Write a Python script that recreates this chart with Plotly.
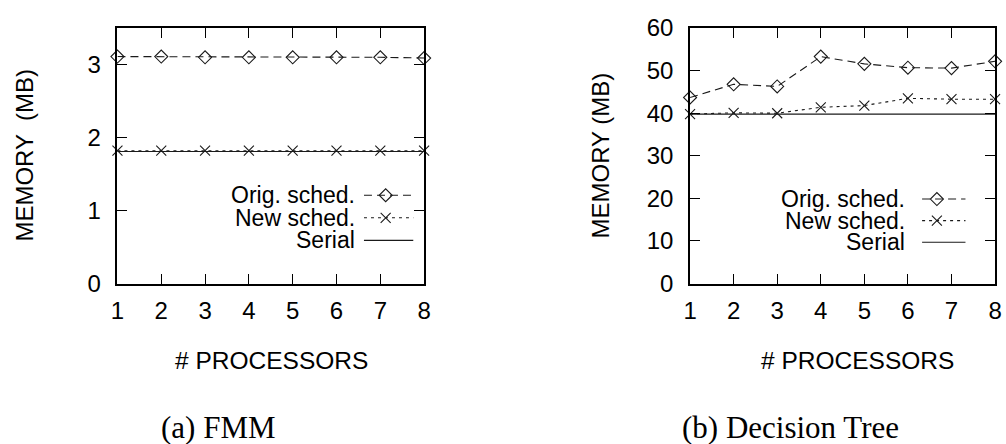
import plotly.graph_objects as go

# ---- data -------------------------------------------------------------
procs = [1, 2, 3, 4, 5, 6, 7, 8]

fmm_orig = [3.11, 3.11, 3.10, 3.10, 3.10, 3.10, 3.10, 3.09]
fmm_new = [1.82, 1.82, 1.82, 1.82, 1.82, 1.82, 1.82, 1.82]
fmm_serial = [1.81, 1.81, 1.81, 1.81, 1.81, 1.81, 1.81, 1.81]

dt_orig = [43.7, 46.8, 46.3, 53.3, 51.6, 50.7, 50.6, 52.2]
dt_new = [39.8, 40.1, 40.0, 41.4, 41.8, 43.5, 43.3, 43.3]
dt_serial = [39.8, 39.8, 39.8, 39.8, 39.8, 39.8, 39.8, 39.8]

series_names = ["Orig. sched.", "New sched.", "Serial"]
fmm_ticks = [0, 1, 2, 3]
dt_ticks = [0, 10, 20, 30, 40, 50, 60]

# ---- styling ----------------------------------------------------------
W, H = 1006, 444
SANS = "Liberation Sans, Arial, sans-serif"
SERIF = "Liberation Serif, Times New Roman, serif"
INK = "#1a1a1a"
LINE_W = 1.1

styles = {
    "Orig. sched.": dict(dash="8px,5px", symbol="diamond-open", msize=10),
    "New sched.": dict(dash="3px,4px", symbol="x-thin-open", msize=10),
    "Serial": dict(dash="solid", symbol=None, msize=0),
}


def px_x(x):
    return x / W


def px_y(y):
    return 1 - y / H


fig = go.Figure()


def add_series(name, xs, ys, xa, ya):
    st = styles[name]
    mode = "lines+markers" if st["symbol"] else "lines"
    fig.add_trace(go.Scatter(
        x=xs, y=ys, mode=mode, name=name, showlegend=False,
        xaxis=xa, yaxis=ya, cliponaxis=False,
        line=dict(color=INK, width=LINE_W, dash=st["dash"]),
        marker=dict(symbol=st["symbol"] or "circle", size=st["msize"],
                    color=INK, line=dict(color=INK, width=1.1)),
    ))


# serial first so the schedules sit on top of it
add_series("Serial", procs, fmm_serial, "x", "y")
add_series("New sched.", procs, fmm_new, "x", "y")
add_series("Orig. sched.", procs, fmm_orig, "x", "y")

add_series("Serial", procs, dt_serial, "x2", "y2")
add_series("New sched.", procs, dt_new, "x2", "y2")
add_series("Orig. sched.", procs, dt_orig, "x2", "y2")

# ---- keys (gnuplot style: label, then line sample) --------------------
keys = [
    dict(rows=[193, 217, 241], text_right=355, x0=362, x1=412, xm=384),
    dict(rows=[197, 220, 243], text_right=913, x0=928, x1=972, xm=943),
]
annotations = []
for k in keys:
    for name, ry in zip(series_names, k["rows"]):
        st = styles[name]
        fig.add_trace(go.Scatter(
            x=[k["x0"], k["x1"]], y=[ry, ry], mode="lines",
            xaxis="x3", yaxis="y3", showlegend=False, hoverinfo="skip",
            line=dict(color=INK, width=LINE_W, dash=st["dash"]),
        ))
        if st["symbol"]:
            fig.add_trace(go.Scatter(
                x=[k["xm"]], y=[ry], mode="markers",
                xaxis="x3", yaxis="y3", showlegend=False, hoverinfo="skip",
                marker=dict(symbol=st["symbol"], size=st["msize"], color=INK,
                            line=dict(color=INK, width=1.1)),
            ))
        annotations.append(dict(
            x=px_x(k["text_right"]), y=px_y(ry), xref="paper", yref="paper",
            xanchor="right", yanchor="middle", showarrow=False, text=name,
            font=dict(family=SANS, size=23, color="black"),
        ))

# ---- axis titles and sub-captions -------------------------------------
texts = [
    ("MEMORY \u00a0(MB)", 18, 151, -90, SANS, 24),
    ("MEMORY (MB)", 602, 151, -90, SANS, 24),
    ("# PROCESSORS", 268, 369, 0, SANS, 24.5),
    ("# PROCESSORS", 863, 369, 0, SANS, 24.5),
    ("(a) FMM", 214, 440, 0, SERIF, 31),
    ("(b) Decision Tree", 795, 440, 0, SERIF, 31),
]
for t, x, y, ang, fam, sz in texts:
    annotations.append(dict(
        x=px_x(x), y=px_y(y), xref="paper", yref="paper",
        xanchor="center", yanchor="middle", showarrow=False, text=t,
        textangle=ang, font=dict(family=fam, size=sz, color="black"),
    ))

axis_common = dict(
    showline=True, linecolor="black", linewidth=1.6, mirror="ticks",
    ticks="inside", ticklen=10, tickwidth=1.2, tickcolor="black",
    showgrid=False, zeroline=False,
    tickfont=dict(family=SANS, size=24, color="black"),
)

ydom = [px_y(287), px_y(15)]
fig.update_layout(
    width=W, height=H,
    margin=dict(l=0, r=0, t=0, b=0),
    paper_bgcolor="white", plot_bgcolor="rgba(0,0,0,0)",
    showlegend=False,
    xaxis=dict(domain=[px_x(112), px_x(423)], range=[1, 8], tickvals=procs,
               anchor="y", ticklabelstandoff=5, **axis_common),
    yaxis=dict(domain=ydom, range=[0, 3.5], tickvals=fmm_ticks,
               anchor="x", ticklabelstandoff=10, **axis_common),
    xaxis2=dict(domain=[px_x(692.7), px_x(1002)], range=[1, 8], tickvals=procs,
                anchor="y2", ticklabelstandoff=5, **axis_common),
    yaxis2=dict(domain=ydom, range=[0, 60], tickvals=dt_ticks,
                anchor="x2", ticklabelstandoff=10, **axis_common),
    xaxis3=dict(domain=[0, 1], range=[0, W], visible=False, anchor="y3",
                fixedrange=True),
    yaxis3=dict(domain=[0, 1], range=[H, 0], visible=False, anchor="x3",
                fixedrange=True),
    annotations=annotations,
)

fig.write_html("out.html")
